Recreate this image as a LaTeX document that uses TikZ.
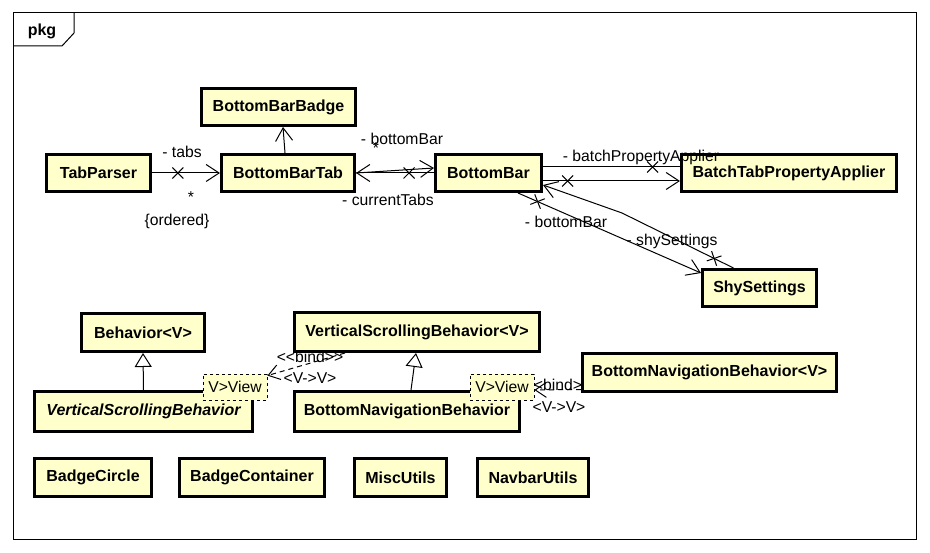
\documentclass[tikz,border=0pt]{standalone}
\usepackage{fontspec}
\setmainfont{Liberation Sans}
\usetikzlibrary{arrows.meta,shapes.misc,calc}
\definecolor{clsfill}{HTML}{FFFFCC}
\begin{document}
\begin{tikzpicture}[x=1pt,y=-1pt,
  cls/.style={draw, line width=3pt, fill=clsfill, font=\fontsize{16}{19}\selectfont\bfseries, inner sep=0pt, minimum height=37pt},
  lbl/.style={font=\fontsize{15.7}{18}\selectfont, inner sep=0pt},
  tview/.style={draw, dashed, line width=0.8pt, fill=clsfill, font=\fontsize{15.7}{18}\selectfont, inner sep=0pt, minimum width=64pt, minimum height=26pt},
  assoc/.style={line width=1pt, -{Straight Barb[length=13pt,width=17pt,line width=1pt]}},
  plain/.style={line width=1pt},
  gen/.style={line width=1pt, -{Triangle[open,length=14pt,width=17pt,line width=1pt]}},
  bindl/.style={line width=1pt, dash pattern=on 5pt off 4pt, -{Straight Barb[length=11pt,width=15pt,line width=1pt]}},
  xmark/.style={draw, -, solid, cross out, line width=1pt, minimum size=10pt, inner sep=0pt, sloped}]
\useasboundingbox (0,0) rectangle (930,553);
% frame
\draw[line width=1pt] (13,13) rectangle (916,539);
\draw[line width=1pt] (13,46) -- (62,46) -- (74,33) -- (74,13);
\node[font=\fontsize{16}{19}\selectfont\bfseries, inner sep=0pt] (pkg) at (42,31) {pkg};
% classes
\node[cls, minimum width=154pt] (bbb) at (278.5,107) {BottomBarBadge};
\node[cls, minimum width=104pt] (tp) at (98.5,173) {TabParser};
\node[cls, minimum width=133pt] (bbt) at (288,173) {BottomBarTab};
\node[cls, minimum width=106pt] (bb) at (488.5,173) {BottomBar};
\node[cls, minimum width=215pt] (btpa) at (789,173) {BatchTabPropertyApplier};
\node[cls, minimum width=114pt] (ss) at (759.5,288) {ShySettings};
\node[cls, minimum width=123pt, minimum height=38pt] (beh) at (143,332.5) {Behavior<V>};
\node[cls, minimum width=218pt, minimum height=40pt, font=\fontsize{16}{19}\selectfont\bfseries\itshape] (vsb) at (143.5,411.5) {VerticalScrollingBehavior};
\node[cls, minimum width=245pt, minimum height=39pt] (vsbv) at (417,332) {VerticalScrollingBehavior<V>};
\node[cls, minimum width=225pt, minimum height=40pt] (bnb) at (407,411.5) {BottomNavigationBehavior};
\node[cls, minimum width=254pt, minimum height=38pt] (bnbv) at (709.5,372.5) {BottomNavigationBehavior<V>};
\node[cls, minimum width=117pt, minimum height=38pt] (bc) at (93,477.5) {BadgeCircle};
\node[cls, minimum width=145pt, minimum height=38pt] (bcon) at (252,477.5) {BadgeContainer};
\node[cls, minimum width=92pt, minimum height=38pt] (mu) at (400.5,477.5) {MiscUtils};
\node[cls, minimum width=111pt, minimum height=38pt] (nu) at (533,477.5) {NavbarUtils};
% template binding boxes
\node[tview] (view1) at (235,387) {V>View};
\node[tview] (view2) at (502,387) {V>View};
% TabParser -> BottomBarTab
\draw[assoc] (tp.east) -- node[xmark,pos=0.38] (x1) {} (bbt.west);
\node[lbl] (l1) at (182,152) {- tabs};
\node[lbl] (l2) at (191,197) {*};
\node[lbl] (l3) at (177,221) {\{ordered\}};
% BottomBarTab -> BottomBarBadge
\draw[assoc] ([xshift=-3pt]bbt.north) -- ([xshift=4.5pt]bbb.south);
% BottomBar <-> BottomBarTab
\draw[assoc] (bb.west) -- node[xmark,pos=0.32] (x2) {} (bbt.east);
\draw[assoc] (bbt.east) -- ([yshift=5pt]bb.west);
\node[lbl] (l4) at (402,139) {- bottomBar};
\node[lbl] (l5) at (376,148) {*};
\node[lbl] (l6) at (388,200) {- currentTabs};
% BottomBar <-> BatchTabPropertyApplier
\draw[plain] ([yshift=6pt]bb.east) -- node[xmark,pos=0.80] (x3) {} ([yshift=6pt]btpa.west);
\draw[assoc] ([yshift=-8pt]bb.east) -- node[xmark,pos=0.18] (x4) {} ([yshift=-8pt]btpa.west);
\node[lbl] (l7) at (641,157) {- batchPropertyApplier};
% BottomBar <-> ShySettings
\coordinate (bbS) at ([xshift=29.5pt]bb.south);
\coordinate (ssW) at ([yshift=15pt]ss.west);
\draw[assoc] (bbS) -- node[xmark,pos=0.107] (x5) {} (ssW);
\node[lbl] (l8) at (566,222) {- bottomBar};
\coordinate (ssN) at ([xshift=-26pt]ss.north);
\coordinate (k1) at (622,213);
\draw[assoc] (ssN) -- node[xmark,pos=0.174] (x6) {} (k1) -- ([yshift=-12pt]bb.east);
\node[lbl] (l9) at (672,241) {- shySettings};
% generalizations
\draw[gen] (vsb.north) -- (beh.south);
\draw[gen] ([xshift=4pt]bnb.north) -- ([xshift=-1pt]vsbv.south);
% bindings
\draw[bindl] ([xshift=52pt]vsbv.south west) -- ([yshift=-2pt]view1.north east);
\node[lbl] (l10) at (310,357) {<{}<bind>{}>};
\node[lbl] (l11) at (310,378) {<V->V>};
\draw[bindl] ([yshift=3.5pt]bnbv.south west) -- ([yshift=-3pt]view2.east);
\node[lbl] (l12) at (558,385) {<bind>};
\node[lbl] (l13) at (559,407) {<V->V>};
\end{tikzpicture}
\end{document}
